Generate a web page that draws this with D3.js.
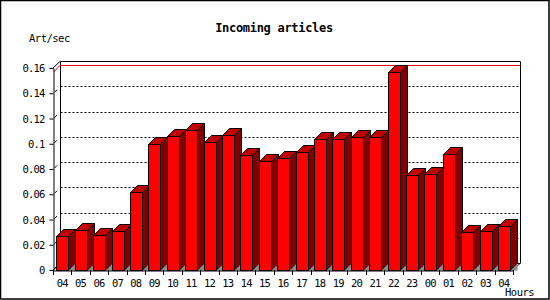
<!DOCTYPE html>
<html>
<head>
<meta charset="utf-8">
<script src="https://cdn.jsdelivr.net/npm/d3@7"></script>
<style>
  body { margin: 0; background: #fff; }
  svg text { font-family: "DejaVu Sans Mono", monospace; fill: #000; }
</style>
</head>
<body>
<div class="chart"></div>
<script>
// hourly incoming article rate
const hours = ["04","05","06","07","08","09","10","11","12","13","14","15","16","17","18","19","20","21","22","23","00","01","02","03","04"];
const rates = [0.0267,0.0314,0.0275,0.0306,0.0615,0.0996,0.1059,0.1106,0.1011,0.1067,0.0908,0.0861,0.0885,0.0932,0.1035,0.1035,0.1051,0.1051,0.157,0.075,0.0758,0.0916,0.0298,0.0306,0.0346];
const yTicks = [0,0.02,0.04,0.06,0.08,0.1,0.12,0.14,0.16];
const yTickLabels = ["0","0.02","0.04","0.06","0.08","0.1","0.12","0.14","0.16"];

const width = 550, height = 300;
const plotLeft = 53, plotRight = 513, plotTop = 68, plotBottom = 270;
const depth = 7;

const svg = d3.select(".chart").append("svg")
  .attr("width", width)
  .attr("height", height);

// outer frame
svg.append("rect")
  .attr("x", 0.5).attr("y", 0.5)
  .attr("width", width - 1.5).attr("height", height - 1.5)
  .attr("fill", "#fff").attr("stroke", "#000").attr("stroke-width", 1.5);

let x = d3.scaleBand()
  .domain(d3.range(hours.length))
  .range([plotLeft, plotRight]);

let y = d3.scaleLinear()
  .domain([0, 0.16])
  .range([plotBottom, plotTop]);

// back wall
let back = svg.append("g").attr("transform", `translate(${depth},${-depth})`);

back.selectAll(".grid")
  .data(yTicks.filter(v => v > 0 && v < 0.16))
  .join("line")
  .attr("x1", plotLeft + 0.5).attr("x2", plotRight)
  .attr("y1", d => Math.round(y(d)) + 0.5)
  .attr("y2", d => Math.round(y(d)) + 0.5)
  .attr("stroke", "#000")
  .attr("stroke-dasharray", "2,2");

back.append("path")
  .attr("d", `M${plotLeft + 0.5},${plotBottom}V${y(0.16) + 0.5}H${plotRight + 0.5}V${plotBottom + 0.5}`)
  .attr("fill", "none")
  .attr("stroke", "#000");

back.append("line")
  .attr("x1", plotLeft).attr("x2", plotRight)
  .attr("y1", plotBottom + 0.5).attr("y2", plotBottom + 0.5)
  .attr("stroke", "#000");

// max line
let maxRate = d3.max(rates);
back.append("line")
  .attr("x1", plotLeft).attr("x2", plotRight)
  .attr("y1", Math.round(y(maxRate)) + 0.5)
  .attr("y2", Math.round(y(maxRate)) + 0.5)
  .attr("stroke", "red");
svg.append("line")
  .attr("x1", plotLeft + 1).attr("y1", y(maxRate))
  .attr("x2", plotLeft + depth).attr("y2", y(maxRate) - depth + 0.5)
  .attr("stroke", "red");

// corner connectors
svg.append("line")
  .attr("x1", plotLeft).attr("y1", y(0.16))
  .attr("x2", plotLeft + depth + 0.5).attr("y2", y(0.16) - depth)
  .attr("stroke", "#000");
svg.append("line")
  .attr("x1", plotRight).attr("y1", plotBottom)
  .attr("x2", plotRight + depth + 0.5).attr("y2", plotBottom - depth)
  .attr("stroke", "#000");
svg.append("line")
  .attr("x1", plotLeft).attr("y1", plotBottom)
  .attr("x2", plotLeft + depth).attr("y2", plotBottom - depth)
  .attr("stroke", "#000");

svg.selectAll(".conn")
  .data(yTicks.slice(0, -1))
  .join("line")
  .attr("x1", plotLeft + 1.5).attr("y1", d => y(d) - 1)
  .attr("x2", plotLeft + 4).attr("y2", d => y(d) - 3.5)
  .attr("stroke", "#000");

// bars
let barW = x.bandwidth() * 0.636;
let bars = svg.append("g")
  .attr("stroke", "#000")
  .attr("stroke-linejoin", "miter")
  .selectAll("g")
  .data(rates)
  .join("g");

bars.each(function(d, i) {
  let g = d3.select(this);
  let x0 = Math.round(x(i) + (x.bandwidth() - barW) / 2) + 0.5;
  let x1 = x0 + Math.round(barW);
  let yt = Math.round(y(d)) + 0.5;
  let yb = plotBottom + 0.5;
  g.append("path")
    .attr("d", `M${x1},${yt}L${x1 + depth},${yt - depth}V${yb - depth}L${x1},${yb}Z`)
    .attr("fill", "#800000");
  g.append("path")
    .attr("d", `M${x1},${yb}L${x1 + depth},${yb - depth}V${yb}Z`)
    .attr("fill", "#8c8c8c").attr("stroke", "none");
  g.append("path")
    .attr("d", `M${x0},${yt}L${x0 + depth},${yt - depth}H${x1 + depth}L${x1},${yt}Z`)
    .attr("fill", "#c00000");
  g.append("rect")
    .attr("x", x0).attr("y", yt)
    .attr("width", x1 - x0).attr("height", yb - yt)
    .attr("fill", "#ff0000");
});

// front axes
let yAxis = g => g
  .attr("transform", `translate(${plotLeft + 0.5},0)`)
  .call(d3.axisLeft(y)
    .tickValues(yTicks)
    .tickFormat((d, i) => yTickLabels[i])
    .tickSize(4)
    .tickPadding(5)
    .tickSizeOuter(0))
  .call(g => g.selectAll("text")
    .attr("font-family", "DejaVu Sans Mono")
    .attr("font-size", 10.5)
    .attr("letter-spacing", -0.8)
    .attr("dy", "0.35em"));

let xAxis = g => g
  .attr("transform", `translate(0,${plotBottom + 0.5})`)
  .call(d3.axisBottom(x)
    .tickFormat(i => hours[i])
    .tickSize(0)
    .tickPadding(9)
    .tickSizeOuter(0))
  .call(g => g.selectAll("text")
    .attr("font-family", "DejaVu Sans Mono")
    .attr("font-size", 10.5)
    .attr("letter-spacing", -0.8));

svg.append("g").call(yAxis);
svg.append("g").call(xAxis);

svg.selectAll(".xtick")
  .data(d3.range(hours.length + 1))
  .join("line")
  .attr("x1", i => Math.round(i < hours.length ? x(i) : plotRight) + 0.5)
  .attr("x2", i => Math.round(i < hours.length ? x(i) : plotRight) + 0.5)
  .attr("y1", plotBottom).attr("y2", plotBottom + 5)
  .attr("stroke", "#000");

// titles
svg.append("text")
  .attr("x", 274).attr("y", 32)
  .attr("text-anchor", "middle")
  .attr("font-size", 12)
  .attr("font-weight", "bold")
  .attr("letter-spacing", -0.3)
  .text("Incoming articles");

svg.append("text")
  .attr("x", 29).attr("y", 42)
  .attr("font-size", 10.5)
  .attr("letter-spacing", -0.5)
  .text("Art/sec");

svg.append("text")
  .attr("x", 505).attr("y", 296)
  .attr("font-size", 10.5)
  .attr("letter-spacing", -0.5)
  .text("Hours");
</script>
</body>
</html>
